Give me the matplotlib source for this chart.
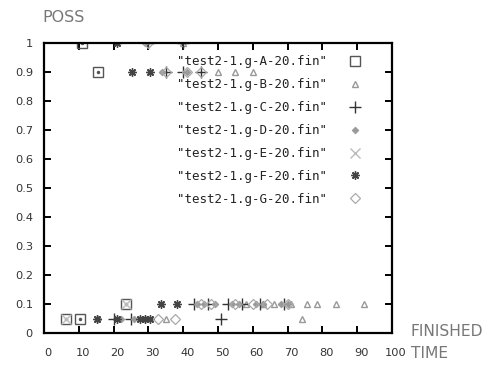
import matplotlib
matplotlib.use("Agg")
import matplotlib.pyplot as plt
from matplotlib.transforms import ScaledTranslation

# ---- data ----
a_x = [6.2, 10.3, 23.6, 15.5, 10.8]
a_y = [0.05, 0.05, 0.1, 0.9, 1.0]

b_x = [58, 63, 66, 71, 75.6, 78.4, 84, 92, 35, 74, 50, 55, 60, 40]
b_y = [0.1, 0.1, 0.1, 0.1, 0.1, 0.1, 0.1, 0.1, 0.05, 0.05, 0.9, 0.9, 0.9, 1.0]

c_x = [43, 47, 53, 57, 62, 69, 20, 25, 51, 35, 40, 45, 30, 40]
c_y = [0.1, 0.1, 0.1, 0.1, 0.1, 0.1, 0.05, 0.05, 0.05, 0.9, 0.9, 0.9, 1.0, 1.0]

d_x = [44, 46, 49, 54, 56, 61, 63, 68, 70, 15.5, 22, 26, 29, 34, 41, 29]
d_y = [0.1, 0.1, 0.1, 0.1, 0.1, 0.1, 0.1, 0.1, 0.1, 0.05, 0.05, 0.05, 0.05, 0.9, 0.9, 1.0]

e_x = [6.2, 23.6]
e_y = [0.05, 0.1]

f_x = [33.5, 38.3, 15.2, 21, 27.6, 29, 30.5, 25.2, 30.5, 20.9]
f_y = [0.1, 0.1, 0.05, 0.05, 0.05, 0.05, 0.05, 0.9, 0.9, 1.0]

g_x = [32.8, 37.6, 45, 48, 55, 60, 64, 70, 35, 41, 45, 30]
g_y = [0.05, 0.05, 0.1, 0.1, 0.1, 0.1, 0.1, 0.1, 0.9, 0.9, 0.9, 1.0]

labels = ['"test2-1.g-A-20.fin"', '"test2-1.g-B-20.fin"', '"test2-1.g-C-20.fin"',
          '"test2-1.g-D-20.fin"', '"test2-1.g-E-20.fin"', '"test2-1.g-F-20.fin"',
          '"test2-1.g-G-20.fin"']
x_ticks = [0, 10, 20, 30, 40, 50, 60, 70, 80, 90, 100]
y_ticks = [0, 0.1, 0.2, 0.3, 0.4, 0.5, 0.6, 0.7, 0.8, 0.9, 1]
y_tick_labels = ["0", "0.1", "0.2", "0.3", "0.4", "0.5", "0.6", "0.7", "0.8", "0.9", "1"]

fig = plt.figure(figsize=(4.92, 3.70), dpi=100)
ax = fig.add_axes([44/492, 37/370, 348/492, 290/370])

h = []
h += ax.plot(a_x, a_y, ls="none", marker="s", ms=7, mfc="none", mec="#555555", mew=1.0, label=labels[0])
ax.plot(a_x, a_y, ls="none", marker=".", ms=3, color="#555555")
h += ax.plot(b_x, b_y, ls="none", marker="^", ms=5, mfc="none", mec="#999999", mew=1.0, label=labels[1])
h += ax.plot(c_x, c_y, ls="none", marker="+", ms=8, color="#333333", mew=1.0, label=labels[2])
h += ax.plot(d_x, d_y, ls="none", marker="D", ms=3.5, color="#999999", mew=0.5, label=labels[3])
h += ax.plot(e_x, e_y, ls="none", marker="x", ms=7, color="#bbbbbb", mew=1.0, label=labels[4])
h += ax.plot(f_x, f_y, ls="none", marker=(8, 2, 0), ms=6, color="#444444", mew=1.0, label=labels[5])
h += ax.plot(g_x, g_y, ls="none", marker="D", ms=5.5, mfc="none", mec="#aaaaaa", mew=0.9, label=labels[6])

ax.set_xlim(0, 100)
ax.set_ylim(0, 1)
ax.set_xticks(x_ticks)
ax.set_yticks(y_ticks)
ax.set_yticklabels(y_tick_labels)
ax.tick_params(direction="in", length=5, width=1.4, top=True, right=True,
               labelsize=8.2, labelcolor="#333333", color="black")
ax.tick_params(axis="x", pad=11)
ax.tick_params(axis="y", pad=8)
for s in ax.spines.values():
    s.set_linewidth(1.6)

for lbl in ax.get_xticklabels():
    lbl.set_transform(lbl.get_transform() + ScaledTranslation(4/100, 0, fig.dpi_scale_trans))

leg = ax.legend(handles=h, loc="upper right", bbox_to_anchor=(0.9116, 0.9573),
                frameon=False, markerfirst=False, handlelength=1.0, handletextpad=1.74,
                labelspacing=0.79, borderpad=0, borderaxespad=0,
                prop={"family": "DejaVu Sans Mono", "size": 9})
for t in leg.get_texts():
    t.set_color("#222222")

fig.text(42/492, 1 - 17/370, "POSS", fontsize=11.5, color="#777777", ha="left", va="center")
fig.text(411/492, 1 - 332/370, "FINISHED", fontsize=11.2, color="#777777", ha="left", va="center")
fig.text(411/492, 1 - 354/370, "TIME", fontsize=11.2, color="#777777", ha="left", va="center")

fig.savefig("out.png", dpi=100)
